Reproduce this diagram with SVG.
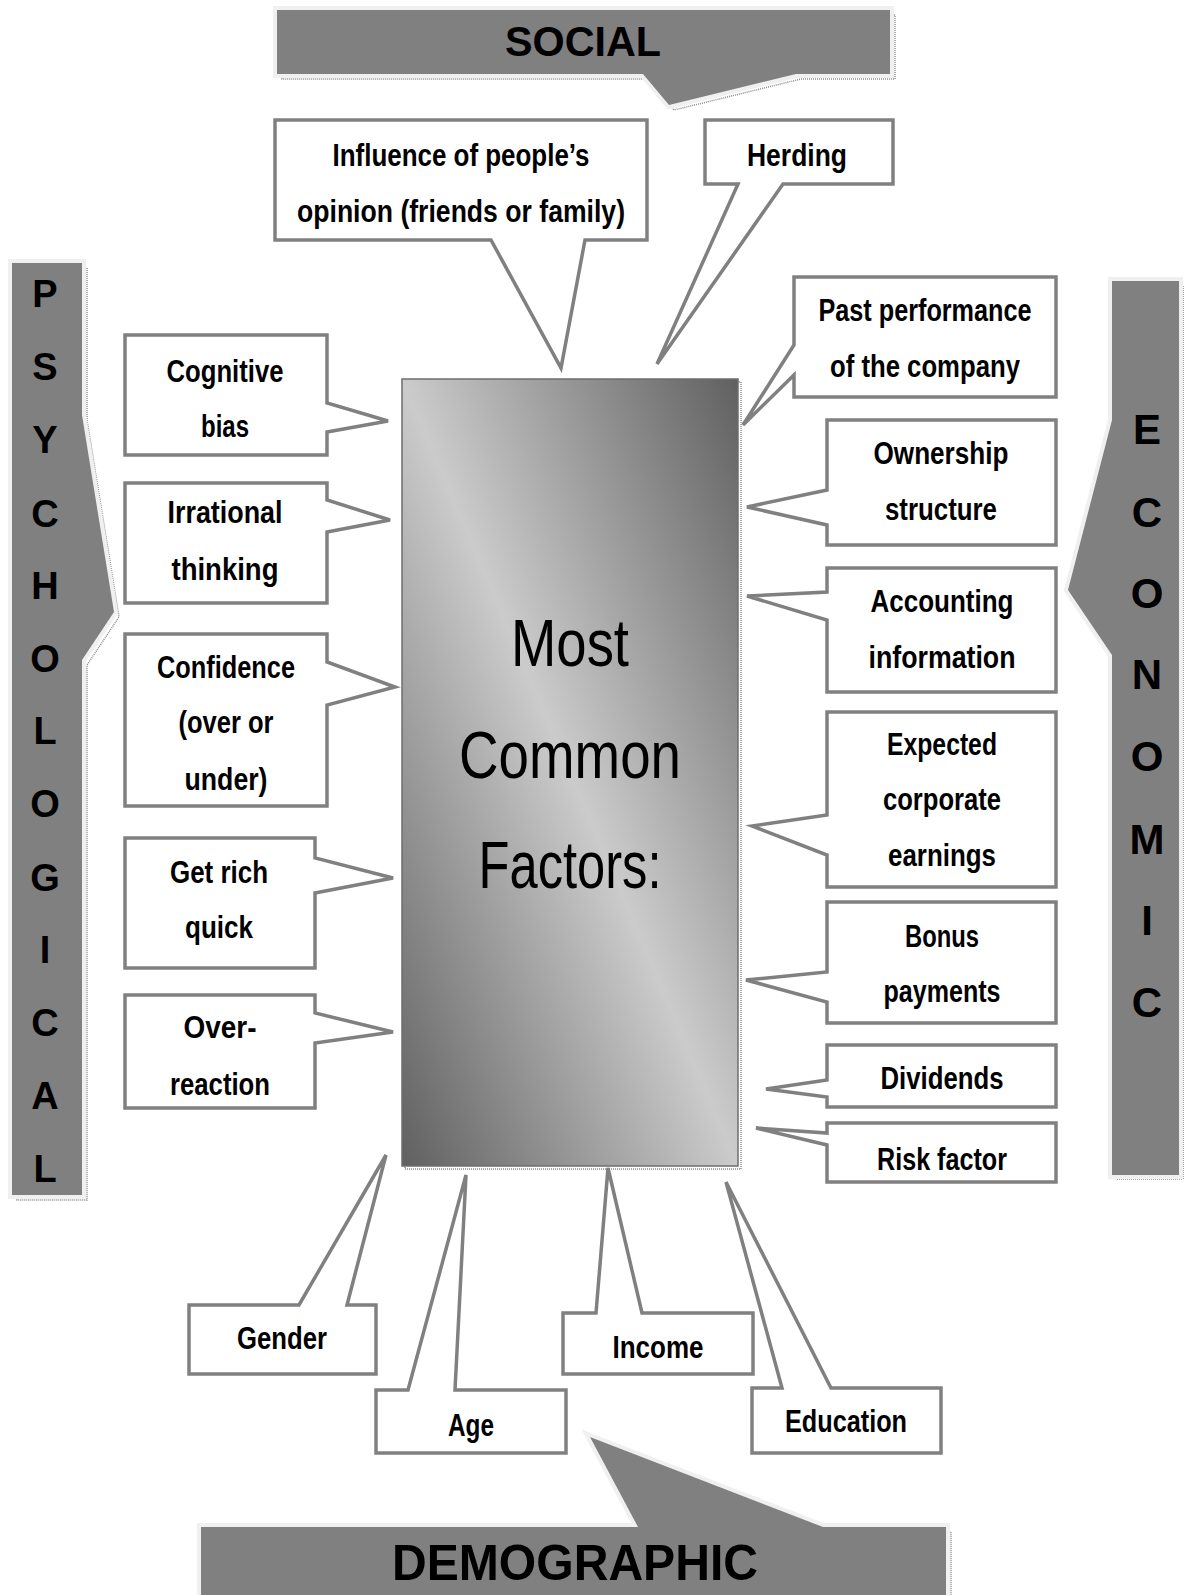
<svg xmlns="http://www.w3.org/2000/svg" width="1187" height="1595" viewBox="0 0 1187 1595">
<style>
.box{fill:#fff;stroke:#808080;stroke-width:3.5;stroke-linejoin:miter}
.lbl{font-family:"Liberation Sans Narrow","Liberation Sans",Arial,sans-serif;font-weight:bold;font-size:31px;fill:#000;text-anchor:middle}
.banner{fill:#808080;stroke:#f0f0f0;stroke-width:8;paint-order:stroke;stroke-linejoin:miter}
.shadow{fill:none;stroke:#8c8c8c;stroke-width:1.5;stroke-dasharray:1 1}
.ban{font-family:"Liberation Sans",Arial,sans-serif;font-weight:bold;fill:#000;text-anchor:middle}
.vl{font-family:"Liberation Sans",Arial,sans-serif;font-weight:bold;fill:#000;text-anchor:middle}
.big{font-family:"Liberation Sans",Arial,sans-serif;font-weight:normal;font-size:67px;fill:#000;text-anchor:middle}
</style>
<defs>
<linearGradient id="cg" x1="1" y1="0" x2="0" y2="1">
<stop offset="0" stop-color="#606060"/>
<stop offset="0.5" stop-color="#cbcbcb"/>
<stop offset="1" stop-color="#606060"/>
</linearGradient>
</defs>
<rect width="1187" height="1595" fill="#fff"/>

<g id="social">
<polygon class="shadow" transform="translate(5,5)" points="277,10 890,10 890,74 796,74 669,105 643,74 277,74"/>
<polygon class="banner" points="277,10 890,10 890,74 796,74 669,105 643,74 277,74"/>
<text class="ban" x="583" y="56" font-size="42" textLength="156" lengthAdjust="spacingAndGlyphs">SOCIAL</text>
</g>

<g id="psychological">
<polygon class="shadow" transform="translate(5,5)" points="12,263 82,263 82,415 114,612 82,660 82,1195 12,1195"/>
<polygon class="banner" points="12,263 82,263 82,415 114,612 82,660 82,1195 12,1195"/>
<g class="vl" font-size="38">
<text x="45" y="307">P</text><text x="45" y="380">S</text><text x="45" y="453">Y</text><text x="45" y="527">C</text><text x="45" y="599">H</text><text x="45" y="672">O</text><text x="45" y="744">L</text><text x="45" y="817">O</text><text x="45" y="891">G</text><text x="45" y="963">I</text><text x="45" y="1036">C</text><text x="45" y="1109">A</text><text x="45" y="1182">L</text>
</g>
</g>

<g id="economic">
<polygon class="shadow" transform="translate(4,4)" points="1112,281 1179,281 1179,1175 1112,1175 1112,655 1068,590 1112,420"/>
<polygon class="banner" points="1112,281 1179,281 1179,1175 1112,1175 1112,655 1068,590 1112,420"/>
<g class="vl" font-size="42">
<text x="1147" y="444">E</text><text x="1147" y="527">C</text><text x="1147" y="608">O</text><text x="1147" y="689">N</text><text x="1147" y="771">O</text><text x="1147" y="854">M</text><text x="1147" y="935">I</text><text x="1147" y="1017">C</text>
</g>
</g>

<g id="demographic">
<polygon class="shadow" transform="translate(5,5)" points="201,1527 638,1527 590,1437 823,1527 946,1527 946,1600 201,1600"/>
<polygon class="banner" points="201,1527 638,1527 590,1437 823,1527 946,1527 946,1600 201,1600"/>
<text class="ban" x="575" y="1580" font-size="50" textLength="366" lengthAdjust="spacingAndGlyphs">DEMOGRAPHIC</text>
</g>

<g id="center">
<rect x="405" y="382" width="336" height="787" class="shadow"/>
<rect x="402" y="379" width="336" height="787" fill="url(#cg)" stroke="#6e6e6e" stroke-width="1.5"/>
<text class="big" x="570" y="666" textLength="118" lengthAdjust="spacingAndGlyphs">Most</text>
<text class="big" x="570" y="778" textLength="222" lengthAdjust="spacingAndGlyphs">Common</text>
<text class="big" x="570" y="888" textLength="183" lengthAdjust="spacingAndGlyphs">Factors:</text>
</g>

<g id="connectors"></g>

<g id="influence">
<path class="box" d="M275,120 H647 V240 H585 L561,368 L491,240 H275 Z"/>
<text class="lbl" x="461" y="166" textLength="257" lengthAdjust="spacingAndGlyphs">Influence of people’s</text>
<text class="lbl" x="461" y="222" textLength="328" lengthAdjust="spacingAndGlyphs">opinion (friends or family)</text>
</g>
<g id="herding">
<path class="box" d="M705,120 H893 V184 H783 L657,364 L738,184 H705 Z"/>
<text class="lbl" x="797" y="166" textLength="100" lengthAdjust="spacingAndGlyphs">Herding</text>
</g>

<g id="cognitive">
<path class="box" d="M125,335 H327 V403 L388,421 L327,432 V455 H125 Z"/>
<text class="lbl" x="225" y="382" textLength="117" lengthAdjust="spacingAndGlyphs">Cognitive</text>
<text class="lbl" x="225" y="437" textLength="48" lengthAdjust="spacingAndGlyphs">bias</text>
</g>
<g id="irrational">
<path class="box" d="M125,483 H327 V500 L390,520 L327,532 V603 H125 Z"/>
<text class="lbl" x="225" y="523" textLength="115" lengthAdjust="spacingAndGlyphs">Irrational</text>
<text class="lbl" x="225" y="580" textLength="107" lengthAdjust="spacingAndGlyphs">thinking</text>
</g>
<g id="confidence">
<path class="box" d="M125,634 H327 V662 L395,687 L327,705 V806 H125 Z"/>
<text class="lbl" x="226" y="678" textLength="138" lengthAdjust="spacingAndGlyphs">Confidence</text>
<text class="lbl" x="226" y="733" textLength="95" lengthAdjust="spacingAndGlyphs">(over or</text>
<text class="lbl" x="226" y="790" textLength="83" lengthAdjust="spacingAndGlyphs">under)</text>
</g>
<g id="getrich">
<path class="box" d="M125,838 H315 V858 L393,878 L315,893 V968 H125 Z"/>
<text class="lbl" x="219" y="883" textLength="98" lengthAdjust="spacingAndGlyphs">Get rich</text>
<text class="lbl" x="219" y="938" textLength="68" lengthAdjust="spacingAndGlyphs">quick</text>
</g>
<g id="overreaction">
<path class="box" d="M125,995 H315 V1013 L393,1032 L315,1043 V1108 H125 Z"/>
<text class="lbl" x="220" y="1038" textLength="73" lengthAdjust="spacingAndGlyphs">Over-</text>
<text class="lbl" x="220" y="1095" textLength="100" lengthAdjust="spacingAndGlyphs">reaction</text>
</g>

<g id="pastperformance">
<path class="box" d="M794,277 H1056 V397 H794 V375 L743,425 L794,345 Z"/>
<text class="lbl" x="925" y="321" textLength="213" lengthAdjust="spacingAndGlyphs">Past performance</text>
<text class="lbl" x="925" y="377" textLength="190" lengthAdjust="spacingAndGlyphs">of the company</text>
</g>
<g id="ownership">
<path class="box" d="M827,420 H1056 V545 H827 V525 L747,507 L827,490 Z"/>
<text class="lbl" x="941" y="464" textLength="135" lengthAdjust="spacingAndGlyphs">Ownership</text>
<text class="lbl" x="941" y="520" textLength="112" lengthAdjust="spacingAndGlyphs">structure</text>
</g>
<g id="accounting">
<path class="box" d="M827,568 H1056 V692 H827 V620 L747,596 L827,592 Z"/>
<text class="lbl" x="942" y="612" textLength="143" lengthAdjust="spacingAndGlyphs">Accounting</text>
<text class="lbl" x="942" y="668" textLength="147" lengthAdjust="spacingAndGlyphs">information</text>
</g>
<g id="expected">
<path class="box" d="M827,712 H1056 V887 H827 V855 L752,826 L827,815 Z"/>
<text class="lbl" x="942" y="755" textLength="110" lengthAdjust="spacingAndGlyphs">Expected</text>
<text class="lbl" x="942" y="810" textLength="118" lengthAdjust="spacingAndGlyphs">corporate</text>
<text class="lbl" x="942" y="866" textLength="108" lengthAdjust="spacingAndGlyphs">earnings</text>
</g>
<g id="bonus">
<path class="box" d="M827,902 H1056 V1023 H827 V1002 L746,980 L827,972 Z"/>
<text class="lbl" x="942" y="947" textLength="74" lengthAdjust="spacingAndGlyphs">Bonus</text>
<text class="lbl" x="942" y="1002" textLength="117" lengthAdjust="spacingAndGlyphs">payments</text>
</g>
<g id="dividends">
<path class="box" d="M827,1045 H1056 V1107 H827 V1097 L766,1089 L827,1080 Z"/>
<text class="lbl" x="942" y="1089" textLength="123" lengthAdjust="spacingAndGlyphs">Dividends</text>
</g>
<g id="riskfactor">
<path class="box" d="M827,1123 H1056 V1182 H827 V1145 L756,1128 L827,1133 Z"/>
<text class="lbl" x="942" y="1170" textLength="130" lengthAdjust="spacingAndGlyphs">Risk factor</text>
</g>

<g id="gender">
<path class="box" d="M189,1305 H299 L386,1155 L347,1305 H376 V1374 H189 Z"/>
<text class="lbl" x="282" y="1349" textLength="90" lengthAdjust="spacingAndGlyphs">Gender</text>
</g>
<g id="age">
<path class="box" d="M376,1390 H408 L466,1175 L455,1390 H566 V1453 H376 Z"/>
<text class="lbl" x="471" y="1436" textLength="46" lengthAdjust="spacingAndGlyphs">Age</text>
</g>
<g id="income">
<path class="box" d="M563,1313 H596 L608,1168 L642,1313 H753 V1374 H563 Z"/>
<text class="lbl" x="658" y="1358" textLength="91" lengthAdjust="spacingAndGlyphs">Income</text>
</g>
<g id="education">
<path class="box" d="M752,1388 H782 L726,1182 L831,1388 H941 V1453 H752 Z"/>
<text class="lbl" x="846" y="1432" textLength="122" lengthAdjust="spacingAndGlyphs">Education</text>
</g>
</svg>
